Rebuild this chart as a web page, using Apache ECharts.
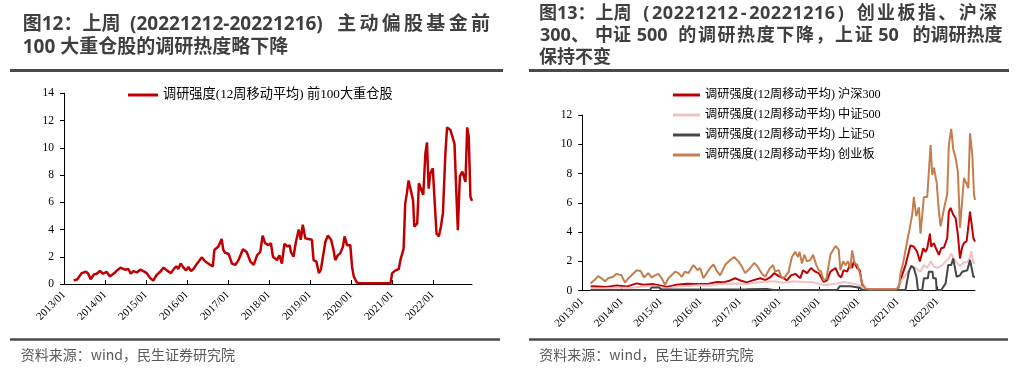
<!DOCTYPE html>
<html>
<head>
<meta charset="utf-8">
<script src="https://cdn.jsdelivr.net/npm/echarts@6.0.0/dist/echarts.min.js"></script>
<style>
html,body{margin:0;padding:0;background:#fff;}
#c{width:1020px;height:374px;}
</style>
</head>
<body>
<div id="c"></div>
<script>
// ---------- tick labels ----------
const yearTicks = ['2013/01','2014/01','2015/01','2016/01','2017/01','2018/01','2019/01','2020/01','2021/01','2022/01'];

// ---------- left chart: 前100大重仓股 ----------
const top100Dates = [
'2013-03-29','2013-04-30','2013-06-07','2013-07-16','2013-08-05','2013-08-26','2013-09-24','2013-10-19','2013-11-17','2013-12-16',
'2014-01-15','2014-02-14','2014-04-01','2014-04-19','2014-05-19','2014-06-28','2014-07-28','2014-08-19','2014-09-10','2014-10-12',
'2014-11-10','2014-12-09','2015-01-08','2015-02-06','2015-03-07','2015-04-05','2015-05-08','2015-06-07','2015-07-05','2015-08-12',
'2015-09-10','2015-10-01','2015-10-16','2015-11-06','2015-12-02','2015-12-24','2016-01-15','2016-02-06','2016-02-28','2016-04-05',
'2016-05-12','2016-06-13','2016-07-28','2016-08-19','2016-09-02','2016-10-08','2016-11-06','2016-11-21','2016-12-05','2017-01-08',
'2017-02-06','2017-03-07','2017-04-05','2017-05-15','2017-06-17','2017-07-20','2017-08-19','2017-09-17','2017-10-16','2017-11-06',
'2017-11-28','2017-12-27','2018-01-19','2018-02-06','2018-03-14','2018-04-05','2018-04-27','2018-05-19','2018-06-17','2018-07-05',
'2018-07-16','2018-08-08','2018-08-30','2018-09-24','2018-10-12','2018-10-30','2018-11-21','2018-12-20','2019-01-19','2019-02-03',
'2019-02-28','2019-03-22','2019-04-09','2019-05-19','2019-06-10','2019-07-09','2019-07-31','2019-08-15','2019-09-06','2019-09-28',
'2019-10-23','2019-11-06','2019-11-28','2019-12-27','2020-01-12','2020-01-27','2020-02-24','2020-03-25','2020-12-20','2021-01-04',
'2021-02-03','2021-03-04','2021-03-18','2021-04-16','2021-04-30','2021-05-15','2021-05-30','2021-06-21','2021-07-09','2021-07-20',
'2021-08-15','2021-08-30','2021-09-21','2021-10-08','2021-10-27','2021-11-10','2021-11-25','2021-12-09','2022-01-01','2022-01-15',
'2022-02-03','2022-02-24','2022-03-14','2022-04-01','2022-04-23','2022-05-08','2022-06-07','2022-06-21','2022-07-13','2022-07-31',
'2022-08-12','2022-08-30','2022-09-21','2022-10-19','2022-11-03','2022-11-17','2022-12-02','2022-12-16'];
const top100Values = [
0.25,0.35,0.8,0.9,0.75,0.35,0.7,0.75,0.95,0.75,
0.9,0.55,0.85,1.0,1.2,1.05,1.1,0.75,0.95,0.85,
1.05,0.95,0.8,0.45,0.25,0.65,0.9,1.2,1.0,0.8,
1.15,1.3,1.1,1.5,1.2,1.0,1.25,0.95,1.1,1.55,
1.95,1.65,1.4,1.3,2.5,2.75,3.3,2.5,2.3,2.2,
1.5,1.4,1.75,2.55,2.35,1.65,1.4,2.1,2.35,3.55,
3.0,2.85,3.0,2.0,1.75,2.1,1.5,2.95,2.75,2.85,
2.35,2.0,3.1,4.0,3.25,4.35,3.35,3.3,3.25,1.75,
1.65,0.8,1.05,3.1,3.55,3.25,2.5,1.75,2.1,2.25,
2.75,3.5,2.85,2.85,1.25,0.55,0.1,0.05,0.05,0.8,
1.0,1.1,1.75,2.6,5.9,6.65,7.6,6.8,6.15,4.2,
4.45,7.4,6.9,6.55,9.6,10.4,7.0,8.1,8.5,6.4,
3.7,3.5,4.2,5.2,9.6,11.5,11.3,11.4,10.3,6.4,
3.95,7.9,8.25,7.5,11.5,10.8,6.4,6.1];

// ---------- right chart ----------
const hs300Dates = [
'2013-03-19','2013-04-13','2013-08-14','2013-11-14','2014-02-16','2014-05-19','2014-07-20','2014-10-21','2014-12-21','2015-02-22',
'2015-05-26','2015-08-26','2015-11-26','2016-02-27','2016-05-30','2016-07-31','2016-10-01','2016-11-16','2017-01-02','2017-03-05',
'2017-05-06','2017-07-07','2017-08-22','2017-10-13','2017-11-13','2017-12-24','2018-02-08','2018-03-11','2018-04-17','2018-05-27',
'2018-07-12','2018-08-06','2018-09-13','2018-10-19','2018-11-28','2018-12-30','2019-02-14','2019-03-17','2019-04-17','2019-06-03',
'2019-07-03','2019-07-25','2019-08-18','2019-09-18','2019-10-19','2019-11-04','2019-11-19','2019-12-20','2020-01-14','2020-02-05',
'2020-03-07','2020-12-26','2021-01-26','2021-02-10','2021-03-13','2021-04-28','2021-05-29','2021-06-29','2021-07-24','2021-08-24',
'2021-09-15','2021-09-30','2021-10-25','2021-11-06','2021-12-01','2021-12-16','2022-01-16','2022-02-07','2022-03-04','2022-04-03',
'2022-04-18','2022-05-04','2022-05-28','2022-06-20','2022-07-11','2022-07-30','2022-08-20','2022-09-05','2022-09-30','2022-10-15',
'2022-10-31','2022-11-12','2022-12-01','2022-12-16'];
const hs300Values = [
0.28,0.3,0.25,0.35,0.28,0.5,0.4,0.45,0.35,0.25,
0.4,0.48,0.45,0.45,0.6,0.57,0.7,0.85,0.7,0.57,
0.72,0.85,0.72,0.95,1.2,1.0,0.85,0.7,1.05,1.15,
0.85,1.4,1.2,1.55,1.3,1.2,0.6,0.7,1.3,1.55,
1.05,0.9,1.4,1.3,1.85,1.55,2.0,1.55,1.4,0.4,
0.1,0.1,0.6,1.07,1.75,3.1,3.0,2.65,2.0,2.9,
2.65,2.9,3.9,3.0,3.25,2.95,2.45,2.9,2.95,3.6,
5.4,5.65,5.2,4.95,3.8,2.2,3.0,3.25,3.4,3.3,
5.4,5.5,3.6,3.35];

const zz500Dates = [
'2013-03-19','2013-07-14','2013-11-14','2014-03-18','2014-07-20','2014-11-20','2015-02-22','2015-05-26','2015-08-26','2015-12-28',
'2016-03-29','2016-06-30','2016-11-01','2017-03-05','2017-07-07','2017-11-07','2018-02-08','2018-05-12','2018-08-12','2018-11-13',
'2019-02-14','2019-05-18','2019-08-18','2019-11-04','2020-01-05','2020-02-20','2020-04-07','2020-12-26','2021-01-26','2021-03-28',
'2021-05-14','2021-06-14','2021-07-30','2021-08-30','2021-09-30','2021-10-31','2021-12-01','2022-01-01','2022-02-17','2022-03-19',
'2022-04-18','2022-05-10','2022-06-01','2022-07-01','2022-07-30','2022-09-05','2022-10-06','2022-10-31','2022-11-12','2022-12-01',
'2022-12-16'];
const zz500Values = [
0.15,0.15,0.22,0.18,0.28,0.28,0.15,0.28,0.32,0.38,
0.36,0.45,0.5,0.45,0.6,0.65,0.55,0.65,0.6,0.57,
0.38,0.45,0.6,0.5,0.38,0.15,0.08,0.08,0.6,1.2,
1.65,1.55,1.3,1.75,1.55,2.0,1.65,1.55,1.75,2.0,
2.2,2.55,2.2,1.9,1.7,1.95,1.95,2.3,2.7,1.9,
1.9];

const sz50Dates = [
'2013-03-19','2014-09-19','2014-10-05','2014-12-15','2014-12-27','2017-03-05','2017-09-06','2017-11-07','2019-06-18','2019-07-12',
'2019-10-19','2019-11-04','2020-01-14','2020-02-05','2021-03-13','2021-04-13','2021-05-05','2021-05-29','2021-06-23','2021-07-06',
'2021-08-15','2021-08-30','2021-10-06','2021-10-15','2021-11-18','2021-11-24','2021-12-19','2021-12-26','2022-02-07','2022-02-17',
'2022-03-19','2022-04-12','2022-05-10','2022-05-28','2022-06-14','2022-06-29','2022-07-30','2022-08-20','2022-10-06','2022-10-24',
'2022-10-31','2022-11-17','2022-12-01','2022-12-16'];
const sz50Values = [
0.05,0.05,0.22,0.22,0.08,0.1,0.12,0.05,0.05,0.3,
0.3,0.22,0.2,0.05,0.05,1.3,1.7,1.55,0.9,0.05,
0.05,0.85,0.85,1.3,1.3,0.85,0.85,0.05,0.05,0.15,
0.5,1.75,1.75,2.2,2.2,0.95,1.05,1.3,1.4,1.4,
2.1,2.15,0.95,0.95];

const cybDates = [
'2013-03-19','2013-04-27','2013-05-28','2013-06-28','2013-07-29','2013-08-29','2013-10-14','2013-11-14','2013-12-30','2014-01-31',
'2014-03-03','2014-04-02','2014-05-19','2014-06-25','2014-07-26','2014-09-04','2014-10-05','2014-11-05','2014-12-06','2015-01-06',
'2015-02-06','2015-03-09','2015-05-10','2015-06-10','2015-07-10','2015-08-10','2015-09-10','2015-10-27','2015-12-03','2015-12-28',
'2016-01-27','2016-02-27','2016-03-29','2016-04-29','2016-05-30','2016-06-30','2016-08-15','2016-10-01','2016-11-07','2016-12-17',
'2017-01-17','2017-02-17','2017-04-05','2017-05-12','2017-06-12','2017-07-22','2017-08-22','2017-10-01','2017-11-01','2017-11-23',
'2017-12-24','2018-01-23','2018-02-23','2018-03-26','2018-04-26','2018-05-27','2018-06-21','2018-07-06','2018-07-28','2018-08-19',
'2018-09-13','2018-10-13','2018-11-07','2018-12-08','2018-12-30','2019-01-20','2019-02-14','2019-03-11','2019-04-17','2019-06-03',
'2019-07-03','2019-07-18','2019-08-12','2019-09-03','2019-09-27','2019-10-19','2019-11-04','2019-11-28','2019-12-20','2020-01-14',
'2020-02-05','2020-03-07','2020-04-22','2020-12-10','2021-01-10','2021-01-26','2021-02-19','2021-03-28','2021-04-19','2021-05-14',
'2021-05-29','2021-06-20','2021-07-15','2021-07-30','2021-08-30','2021-09-30','2021-10-31','2021-11-15','2021-12-01','2021-12-26',
'2022-01-16','2022-02-01','2022-03-04','2022-04-03','2022-04-18','2022-05-10','2022-05-28','2022-06-20','2022-07-11','2022-07-30',
'2022-08-11','2022-09-05','2022-09-30','2022-10-15','2022-10-31','2022-11-21','2022-12-07','2022-12-16'];
const cybValues = [
0.5,0.75,1.0,0.85,0.65,0.85,0.95,1.15,1.05,0.55,
0.85,1.05,1.4,1.35,0.9,1.2,0.9,1.05,1.15,0.85,
0.4,0.85,1.3,1.2,0.95,1.3,1.2,1.75,1.4,1.55,
0.85,1.2,1.55,1.8,1.35,1.05,1.75,2.1,2.3,2.0,
1.65,1.2,1.55,1.9,1.65,1.15,0.95,1.5,1.75,1.3,
1.4,0.85,0.95,1.3,2.3,2.65,2.3,2.65,1.85,2.45,
2.0,2.1,2.45,1.75,1.4,1.3,0.7,0.8,2.45,3.05,
2.8,1.4,2.0,1.75,2.0,1.5,2.75,1.85,1.8,1.2,
0.5,0.15,0.1,0.1,0.2,1.2,1.9,3.35,4.2,5.2,
6.4,5.1,5.7,3.9,6.4,6.4,9.95,7.9,8.4,7.4,
5.4,4.4,5.6,6.6,9.95,11.05,9.7,9.05,8.1,4.3,
5.4,7.7,7.3,7.0,10.75,9.3,6.55,6.2];

const seriesNames = {
  top100: '调研强度(12周移动平均) 前100大重仓股',
  hs300: '调研强度(12周移动平均) 沪深300',
  zz500: '调研强度(12周移动平均) 中证500',
  sz50: '调研强度(12周移动平均) 上证50',
  cyb: '调研强度(12周移动平均) 创业板'
};

// ---------- helpers ----------
function yr(s){
  const p = s.split('-').map(Number);
  const t = Date.UTC(p[0], p[1]-1, p[2]), a = Date.UTC(p[0],0,1), b = Date.UTC(p[0]+1,0,1);
  return p[0] + (t-a)/(b-a);
}
function pairs(d, v){ return d.map((s,i)=>[yr(s), v[i]]); }
const tickVals = yearTicks.map(s => +s.slice(0,4));
const X_MIN = yr('2013-01-01'), X_MAX = yr('2022-12-16');

const SERIF = "'Liberation Serif','Times New Roman','Noto Sans CJK SC',serif";
const SANS = "'Noto Sans CJK SC','Microsoft YaHei',sans-serif";
const TITLE = "'Open Sans','Noto Sans CJK SC',sans-serif";

function xAxisCfg(gi, fs){
  return {
    type:'value', gridIndex:gi, min:X_MIN, max:X_MAX,
    axisLine:{show:true, onZero:false, lineStyle:{color:'#000', width:1}},
    axisTick:{show:true, inside:true, length:4, customValues:tickVals, lineStyle:{color:'#000'}},
    axisLabel:{show:true, customValues:tickVals, rotate:45, margin:9, color:'#000',
      fontFamily:SERIF, fontSize:fs,
      formatter: v => { const i = tickVals.indexOf(Math.round(v)); return i>=0 ? yearTicks[i] : ''; }},
    splitLine:{show:false}
  };
}
function yAxisCfg(gi, max, fs){
  return {
    type:'value', gridIndex:gi, min:0, max:max, interval:2,
    axisLine:{show:true, lineStyle:{color:'#000', width:1}},
    axisTick:{show:true, inside:false, length:4, lineStyle:{color:'#000'}},
    axisLabel:{margin:10, color:'#000', fontFamily:SERIF, fontSize:fs},
    splitLine:{show:false}
  };
}
function txt(s, x, y, size, weight, color, fam, align){
  return {type:'text', x:x, y:y, silent:true,
    style:{text:s, fill:color, font: weight+' '+size+'px '+(fam||SANS),
      textAlign:align||'left', align:align||'left',
      textVerticalAlign:'middle', verticalAlign:'middle'}};
}
// justified title runs: each character gets an equal cell
function spread(s, x0, pitch, y, size){
  return Array.from(s).map((ch,i)=>txt(ch, x0+(i+0.5)*pitch, y, size, 'bold', TC, TITLE, 'center'));
}

const TC = '#3f3f3f';
const graphics = [].concat(
  // left title
  [txt('图12：上周', 22.7, 24.5, 19, 'bold', TC, TITLE),
   txt('(20221212-20221216)', 130, 24.5, 19, 'bold', TC, TITLE)],
  spread('主动偏股基金前', 335.5, 22.3, 24.5, 19),
  [txt('100 大重仓股的调研热度略下降', 22.7, 47.5, 19, 'bold', TC, TITLE)],
  // right title
  [txt('图13：上周', 539, 13.5, 18, 'bold', TC, TITLE)],
  spread('(20221212-20221216)', 641, 10.8, 13.5, 18),
  spread('创业板指、沪深', 855.5, 20.4, 13.5, 18),
  [txt('300、', 540, 35.5, 18, 'bold', TC, TITLE),
   txt('中证', 595, 35.5, 18, 'bold', TC, TITLE),
   txt('500', 636.7, 35.5, 18, 'bold', TC, TITLE)],
  spread('的调研热度下降，上证', 677.5, 19.6, 35.5, 18),
  [txt('50', 878.3, 35.5, 18, 'bold', TC, TITLE),
   txt('的调研热度', 912.5, 35.5, 18, 'bold', TC, TITLE),
   txt('保持不变', 539, 58, 18, 'bold', TC, TITLE)],
  // rules
  [{type:'rect', shape:{x:10, y:69, width:493, height:3}, style:{fill:'#4a4a4a'}, silent:true},
   {type:'rect', shape:{x:529, y:69, width:480, height:3}, style:{fill:'#4a4a4a'}, silent:true},
   {type:'rect', shape:{x:10, y:338.3, width:490, height:2.4}, style:{fill:'#4a4a4a'}, silent:true},
   {type:'rect', shape:{x:529, y:338.3, width:479, height:2.4}, style:{fill:'#4a4a4a'}, silent:true}],
  // source
  [txt('资料来源：wind，民生证券研究院', 20.7, 354.5, 14, 'normal', '#595959'),
   txt('资料来源：wind，民生证券研究院', 539.3, 354.5, 14, 'normal', '#595959')]
);

function line(name, xi, data, color, w){
  return {type:'line', name:name, xAxisIndex:xi, yAxisIndex:xi, data:data,
    showSymbol:false, symbol:'none', smooth:false,
    lineStyle:{color:color, width:w}, itemStyle:{color:color}};
}

const C_RED = '#c00000', C_PINK = '#efc3c3', C_GRAY = '#464646', C_ORANGE = '#c47e4e';

const option = {
  animation:false,
  backgroundColor:'#fff',
  grid:[
    {left:64, top:93.3, width:408, height:190.7, containLabel:false},
    {left:582.3, top:115, width:392.7, height:175.7, containLabel:false}
  ],
  xAxis:[xAxisCfg(0, 11), xAxisCfg(1, 11)],
  yAxis:[yAxisCfg(0, 14, 11.5), yAxisCfg(1, 12, 11.5)],
  legend:[
    {data:[seriesNames.top100], left:123, top:82, itemWidth:30, itemHeight:3, icon:'rect',
     textStyle:{fontSize:13.2, lineHeight:16, color:'#000', fontFamily:SERIF}, selectedMode:false},
    {data:[seriesNames.hs300, seriesNames.zz500, seriesNames.sz50, seriesNames.cyb],
     orient:'vertical', left:668, top:82, itemWidth:27, itemHeight:3, itemGap:4, icon:'rect',
     textStyle:{fontSize:12.2, lineHeight:16, color:'#000', fontFamily:SERIF}, selectedMode:false}
  ],
  graphic: graphics,
  series:[
    line(seriesNames.top100, 0, pairs(top100Dates, top100Values), C_RED, 2.5),
    line(seriesNames.hs300, 1, pairs(hs300Dates, hs300Values), C_RED, 2),
    line(seriesNames.zz500, 1, pairs(zz500Dates, zz500Values), C_PINK, 2),
    line(seriesNames.sz50, 1, pairs(sz50Dates, sz50Values), C_GRAY, 2),
    line(seriesNames.cyb, 1, pairs(cybDates, cybValues), C_ORANGE, 2)
  ]
};

const chart = echarts.init(document.getElementById('c'), null, {renderer:'canvas', width:1020, height:374});
chart.setOption(option);
</script>
</body>
</html>
